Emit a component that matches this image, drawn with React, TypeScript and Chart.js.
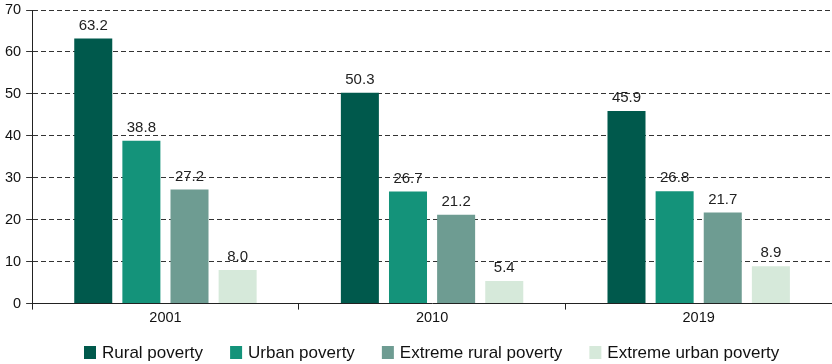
import React, { useEffect, useRef } from "react";
import { Chart, registerables } from "chart.js";

Chart.register(...registerables);

const categories = ["2001", "2010", "2019"];
const ruralPoverty = [63.2, 50.3, 45.9];
const urbanPoverty = [38.8, 26.7, 26.8];
const extremeRural = [27.2, 21.2, 21.7];
const extremeUrban = [8.0, 5.4, 8.9];
const seriesNames = ["Rural poverty", "Urban poverty", "Extreme rural poverty", "Extreme urban poverty"];
const seriesColors = ["#00594C", "#14937A", "#6E9C92", "#D6E9DA"];
const yTicks = [0, 10, 20, 30, 40, 50, 60, 70];

const FONT = "'Liberation Sans', Arial, sans-serif";

const labelPlugin = {
  id: "barLabels",
  afterDatasetsDraw(chart: any) {
    const ctx = chart.ctx;
    ctx.save();
    ctx.font = `15px ${FONT}`;
    ctx.fillStyle = "#222";
    ctx.textAlign = "center";
    ctx.textBaseline = "alphabetic";
    chart.data.datasets.forEach((ds: any, i: number) => {
      const meta = chart.getDatasetMeta(i);
      meta.data.forEach((bar: any, j: number) => {
        ctx.fillText(Number(ds.data[j]).toFixed(1), bar.x, bar.y - 9);
      });
    });
    ctx.restore();
  },
};

const legendPlugin = {
  id: "bottomLegend",
  afterDraw(chart: any) {
    const ctx = chart.ctx;
    ctx.save();
    ctx.font = `17px ${FONT}`;
    ctx.textAlign = "left";
    ctx.textBaseline = "alphabetic";
    const boxW = 12;
    const boxH = 13;
    const textGap = 6;
    const itemGap = 27;
    const centerY = 352;
    let x = 84;
    chart.data.datasets.forEach((ds: any) => {
      ctx.fillStyle = ds.backgroundColor;
      ctx.fillRect(x, centerY - 6, boxW, boxH);
      ctx.fillStyle = "#111";
      const tx = x + boxW + textGap;
      ctx.fillText(ds.label, tx, centerY + 6);
      x = tx + ctx.measureText(ds.label).width + itemGap;
    });
    ctx.restore();
  },
};

export default function App() {
  const ref = useRef<HTMLCanvasElement>(null);
  useEffect(() => {
    document.body.style.margin = "0";
    const all = [ruralPoverty, urbanPoverty, extremeRural, extremeUrban];
    const chart = new Chart(ref.current!, {
      type: "bar",
      data: {
        labels: categories,
        datasets: all.map((d, i) => ({
          label: seriesNames[i],
          data: d,
          backgroundColor: seriesColors[i],
          categoryPercentage: 0.722,
          barPercentage: 0.79,
        })),
      },
      options: {
        animation: false,
        responsive: false,
        layout: { padding: { top: 10, right: 0, left: 0, bottom: 37 } },
        plugins: {
          legend: { display: false },
          tooltip: { enabled: false },
        },
        scales: {
          x: {
            offset: true,
            grid: {
              offset: true,
              drawOnChartArea: false,
              drawTicks: true,
              tickLength: 6,
              color: "#222",
            },
            border: { color: "#222", width: 1 },
            ticks: { color: "#111", font: { size: 14.5, family: FONT }, padding: 0 },
          },
          y: {
            min: 0,
            max: 70,
            afterBuildTicks: (axis: any) => {
              axis.ticks = yTicks.map((v) => ({ value: v }));
            },
            afterFit: (s: any) => {
              s.paddingTop = 0;
            },
            ticks: { color: "#111", font: { size: 14.5, family: FONT }, padding: 5 },
            grid: {
              color: (c: any) => (c.tick && c.tick.value === 0 ? "rgba(0,0,0,0)" : "#333"),
              tickColor: "#333",
              tickLength: 6,
              tickBorderDash: [],
            } as any,
            border: { color: "#222", width: 1, dash: [5, 3] } as any,
          },
        },
      },
      plugins: [labelPlugin, legendPlugin],
    });
    return () => chart.destroy();
  }, []);
  return (
    <div style={{ width: 832, height: 364 }}>
      <canvas ref={ref} width={832} height={364} />
    </div>
  );
}
